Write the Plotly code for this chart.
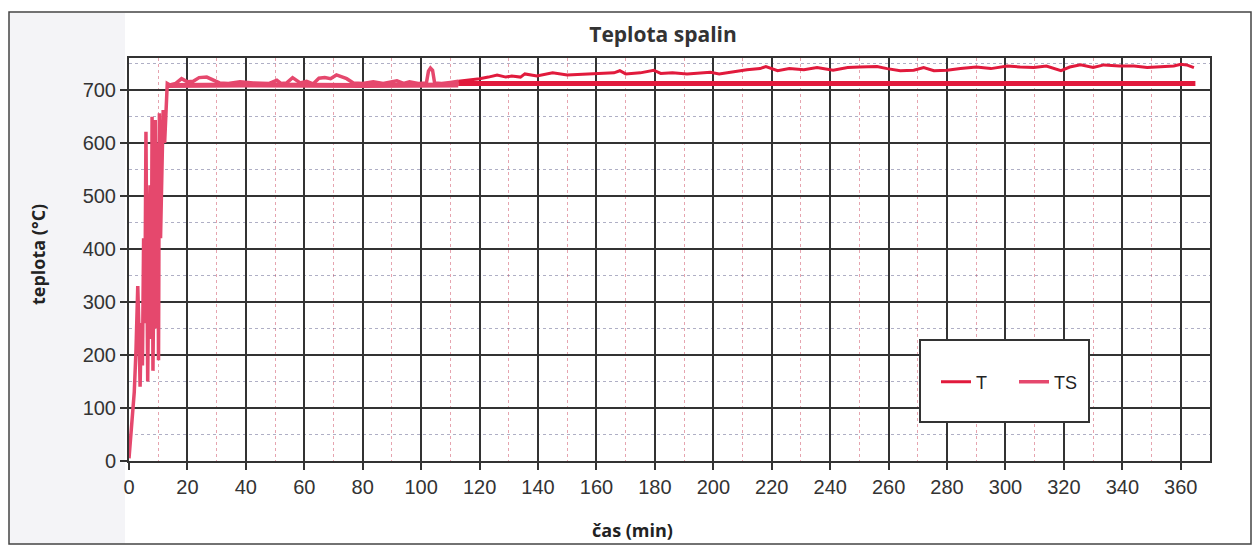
import plotly.graph_objects as go

# ---- data ----
ts_time = [0, 0.6, 1.2, 1.8, 2.4, 3.0, 3.4, 3.8, 4.2, 4.6, 5.0, 5.4, 5.8, 6.1, 6.4, 6.8, 7.2, 7.6, 7.9,
           8.2, 8.6, 9.0, 9.4, 9.8, 10.1, 10.4, 10.8, 11.2, 11.7, 12.2, 12.7, 13.1,
           14, 16, 18, 20, 22, 24, 26.6, 28.8, 31, 34, 38, 42.5, 46, 48, 50.6, 52, 54, 56, 58.6, 60.8,
           63, 65, 67, 69, 71, 72, 74.5, 76.8, 80, 83.6, 87, 91.7, 94, 96, 99, 101.8, 102.5, 103.2,
           103.9, 104.6, 107, 110, 112.7]
ts_temp = [5, 50, 95, 130, 210, 330, 250, 140, 260, 180, 420, 260, 621, 300, 150, 380, 520, 230, 649,
           170, 460, 643, 250, 600, 190, 656, 420, 540, 662, 600, 690, 712,
           709, 712, 721, 715, 716, 723, 724, 718, 713, 712, 715, 713, 712, 712, 718, 712, 713, 723, 713, 716,
           711, 722, 723, 721, 728, 726, 721, 713, 712, 715, 712, 717, 712, 715, 712, 713, 735, 741,
           737, 713, 712, 714, 716]

ts_flat_time = [13.1, 40, 80, 112.7]
ts_flat_temp = [708, 709, 708, 709]

t_time = [112.7, 116, 120, 123, 126, 129, 131, 134, 135.5, 139.6, 145, 150, 156.7, 161, 166, 168, 170,
          175, 179.6, 182, 186, 191, 195.5, 199, 202, 207, 211.5, 216, 218, 222, 226, 231, 235.5, 241,
          246, 250, 256, 259.5, 264, 268.6, 272, 275.5, 280, 284.6, 290, 295, 300.6, 305, 309.7, 314,
          319, 322, 325.7, 330, 333.7, 339, 344, 348.5, 354, 357.6, 360, 362, 364.5]
t_temp = [716, 718, 721, 724, 728, 724, 726, 724, 730, 726, 732, 728, 730, 731, 732, 736, 730,
          732, 737, 731, 732, 730, 731, 733, 730, 734, 738, 740, 744, 736, 740, 738, 742, 737,
          742, 743, 744, 740, 736, 737, 742, 736, 737, 740, 743, 740, 745, 743, 742, 745,
          736, 743, 747, 742, 747, 745, 745, 742, 743, 745, 748, 747, 742]

t_flat_time = [112.7, 200, 300, 365]
t_flat_temp = [712, 712, 712, 712]

x_ticks = list(range(0, 361, 20))
y_ticks = list(range(0, 701, 100))

# ---- style ----
RED = "#e11a3c"
PINK = "#e5486d"
W, H = 1260, 546
ML, MR, MT, MB = 129, 50, 58, 85
PW = W - ML - MR
PH = H - MT - MB


def px_x(p):
    return (p - ML) / PW


def px_y(p):
    return 1 - (p - MT) / PH


fig = go.Figure()
fig.add_trace(go.Scatter(x=ts_flat_time, y=ts_flat_temp, mode="lines",
                         line=dict(color=PINK, width=5), showlegend=False, hoverinfo="skip"))
fig.add_trace(go.Scatter(x=t_flat_time, y=t_flat_temp, mode="lines",
                         line=dict(color=RED, width=5), showlegend=False, legendgroup="T"))
fig.add_trace(go.Scatter(x=t_time, y=t_temp, mode="lines", name="T", legendgroup="T",
                         line=dict(color=RED, width=3)))
fig.add_trace(go.Scatter(x=ts_time, y=ts_temp, mode="lines", name="TS",
                         line=dict(color=PINK, width=3.5)))

axis_common = dict(
    showline=True, linecolor="#333", linewidth=2, mirror=True,
    showgrid=True, gridcolor="#333", gridwidth=2,
    ticks="outside", ticklen=7, tickwidth=2, tickcolor="#333",
    tickfont=dict(family="Liberation Sans, Arial", size=20, color="#333"),
    zeroline=False,
)

fig.update_xaxes(range=[0, 370], tickvals=x_ticks, **axis_common,
                 minor=dict(dtick=10, tick0=0, showgrid=True, gridcolor="rgba(210,90,110,0.55)",
                            griddash="dot", gridwidth=1, ticks=""))
fig.update_yaxes(range=[0, 760], tickvals=y_ticks, **axis_common,
                 minor=dict(dtick=50, tick0=0, showgrid=True, gridcolor="rgba(110,110,150,0.55)",
                            griddash="dot", gridwidth=1, ticks=""))

shapes = [
    # faint scan shading on the left
    dict(type="rect", xref="paper", yref="paper", x0=px_x(9), x1=px_x(125), y0=px_y(544), y1=px_y(13),
         fillcolor="#f4f4f7", line=dict(width=0), layer="below"),
    # outer chart border
    dict(type="rect", xref="paper", yref="paper", x0=px_x(9), x1=px_x(1251), y0=px_y(544), y1=px_y(12),
         fillcolor="rgba(0,0,0,0)", line=dict(color="#444", width=1.5), layer="below"),
    # legend box
    dict(type="rect", xref="paper", yref="paper", x0=px_x(920), x1=px_x(1089), y0=px_y(422), y1=px_y(340),
         fillcolor="white", line=dict(color="#333", width=2), layer="above"),
]

annotations = [
    dict(text="<b>teplota (°C)</b>", xref="paper", yref="paper", x=px_x(38), y=px_y(255),
         textangle=-90, showarrow=False, font=dict(family="Open Sans", size=18, color="#222"),
         xanchor="center", yanchor="middle"),
    dict(text="<b>čas (min)</b>", xref="paper", yref="paper", x=px_x(632), y=px_y(530),
         showarrow=False, font=dict(family="Open Sans", size=18, color="#222"),
         xanchor="center", yanchor="middle"),
]

fig.update_layout(
    width=W, height=H,
    margin=dict(l=ML, r=MR, t=MT, b=MB),
    paper_bgcolor="white", plot_bgcolor="white",
    title=dict(text="<b>Teplota spalin</b>", x=px_x(663), xref="paper", xanchor="center",
               y=1 - 35 / H, yanchor="middle", yref="container",
               font=dict(family="Open Sans", size=21, color="#333")),
    shapes=shapes, annotations=annotations,
    legend=dict(orientation="h", x=px_x(936), y=px_y(382), xanchor="left", yanchor="middle",
                bgcolor="rgba(0,0,0,0)", borderwidth=0, entrywidth=33, entrywidthmode="pixels",
                font=dict(family="Liberation Sans, Arial", size=18, color="#222"),
                traceorder="normal"),
    showlegend=True,
)

fig.write_html("out.html")
